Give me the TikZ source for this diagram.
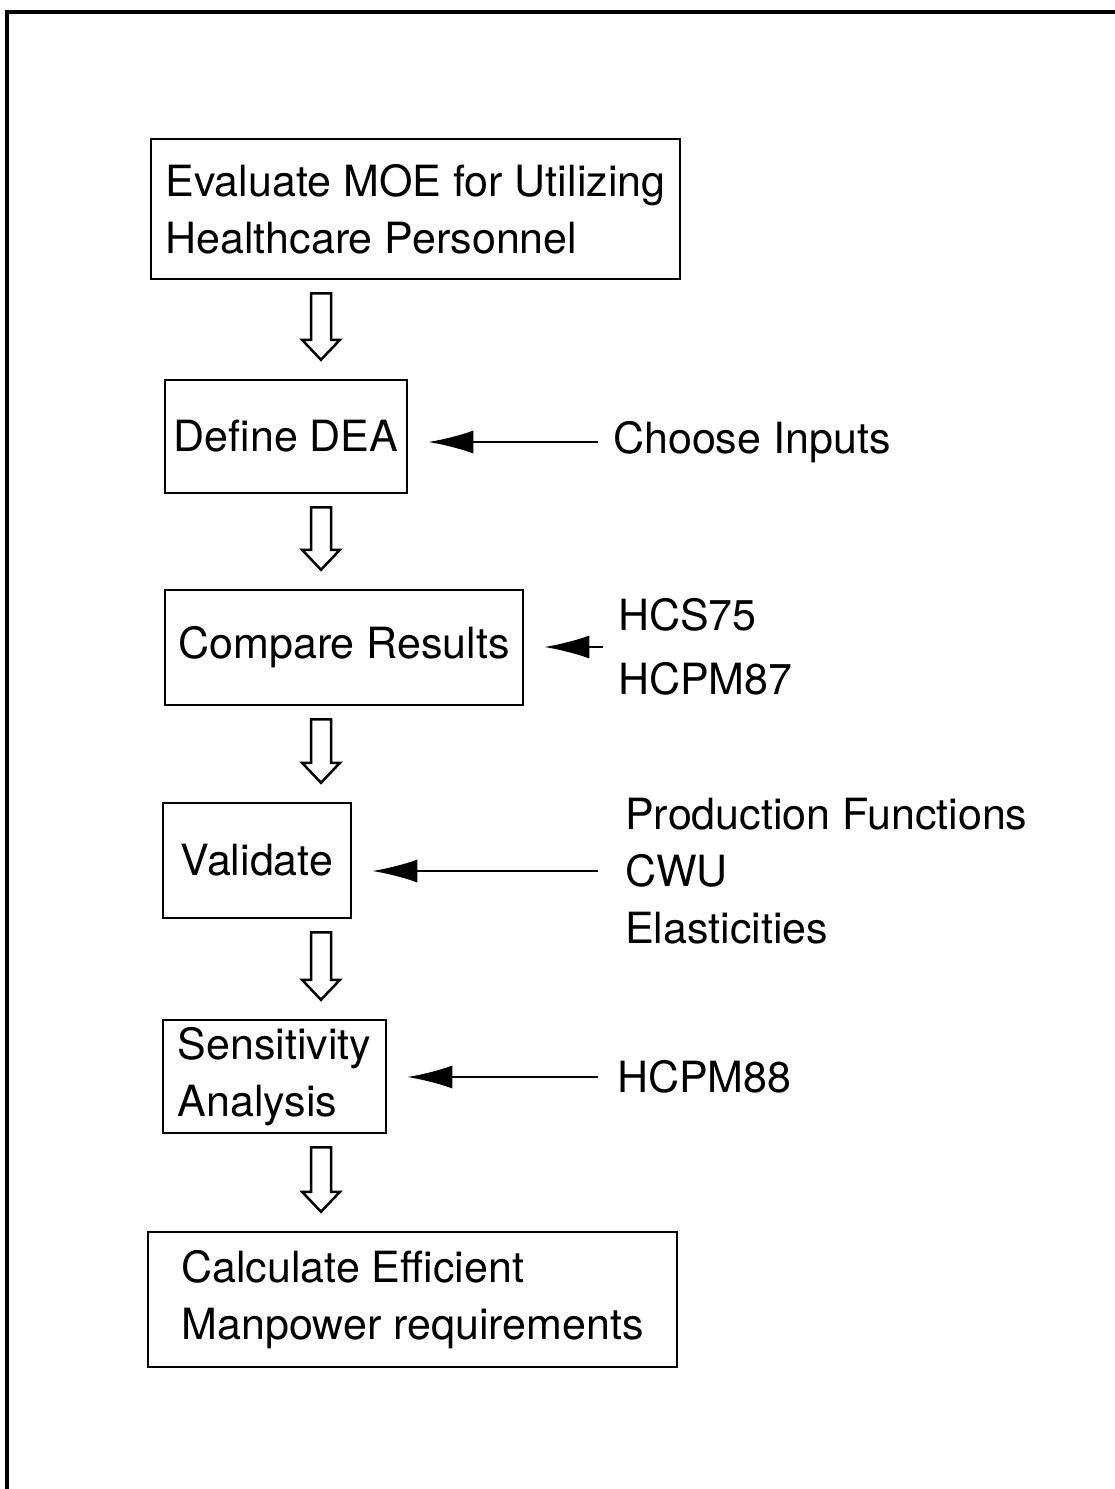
\documentclass[tikz,border=0pt]{standalone}
\usepackage{fontspec}
\setmainfont{TeX Gyre Heros}
\usetikzlibrary{arrows.meta, calc}

\begin{document}
\begin{tikzpicture}[x=1pt, y=-1pt,
  every node/.style={font=\fontsize{43}{57}\selectfont, inner sep=0pt},
  stepbox/.style={draw, line width=2.5pt, align=left},
  blockarrow/.style={draw, line width=2.5pt, fill=white, line join=miter},
  sidearrow/.style={line width=2.5pt, -{Latex[length=45pt, width=23pt]}, shorten >=20pt}]

\useasboundingbox (0,0) rectangle (1115,1489);
\draw [line width=3.5pt] (1115,12) -- (7,12) -- (7,1489);

% steps
\node [stepbox, minimum width=529pt, minimum height=140pt] (evaluate)    at (415.5,209)   {Evaluate MOE for Utilizing\\Healthcare Personnel};
\node [stepbox, minimum width=242pt, minimum height=113pt] (define)      at (286,436.5)   {Define DEA};
\node [stepbox, minimum width=358pt, minimum height=115pt] (compare)     at (344,647.5)   {Compare Results};
\node [stepbox, minimum width=188pt, minimum height=115pt] (validate)    at (257,860.5)   {Validate};
\node [stepbox, minimum width=223pt, minimum height=113pt] (sensitivity) at (274.5,1076.5){Sensitivity\\Analysis};
\node [stepbox, minimum width=529pt, minimum height=135pt] (calculate)   at (412.5,1299.5){Calculate Efficient\\Manpower requirements};

% hollow arrows between steps
\coordinate (ax) at (321,0);
\foreach \a/\b in {evaluate/define, define/compare, compare/validate, validate/sensitivity, sensitivity/calculate}{
  \coordinate (top) at ($(ax |- \a.south)+(0,13)$);
  \coordinate (tip) at ($(ax |- \b.north)+(0,-19)$);
  \draw [blockarrow] ($(top)+(-10,0)$) -- ($(tip)+(-10,-20)$) -- ($(tip)+(-19,-20)$) -- (tip)
    -- ($(tip)+(19,-20)$) -- ($(tip)+(10,-20)$) -- ($(top)+(10,0)$) -- cycle;
}

% inputs on the right
\node [anchor=west, align=left] (inputs) at (613,442)  {Choose Inputs};
\node [anchor=west, align=left, font=\fontsize{43}{64}\selectfont] (models) at (618,647) {HCS75\\HCPM87};
\node [anchor=west, align=left] (checks) at (625,871)  {Production Functions\\CWU\\Elasticities};
\node [anchor=west, align=left] (hcpm)   at (617,1077) {HCPM88};

\draw [sidearrow] ([xshift=-15pt]inputs.west) -- (inputs.west -| define.east);
\draw [sidearrow] ([xshift=-15pt]models.west) -- (models.west -| compare.east);
\draw [sidearrow] ([xshift=-27pt]checks.west) -- (checks.west -| validate.east);
\draw [sidearrow] ([xshift=-19pt]hcpm.west)   -- (hcpm.west -| sensitivity.east);
\end{tikzpicture}
\end{document}
